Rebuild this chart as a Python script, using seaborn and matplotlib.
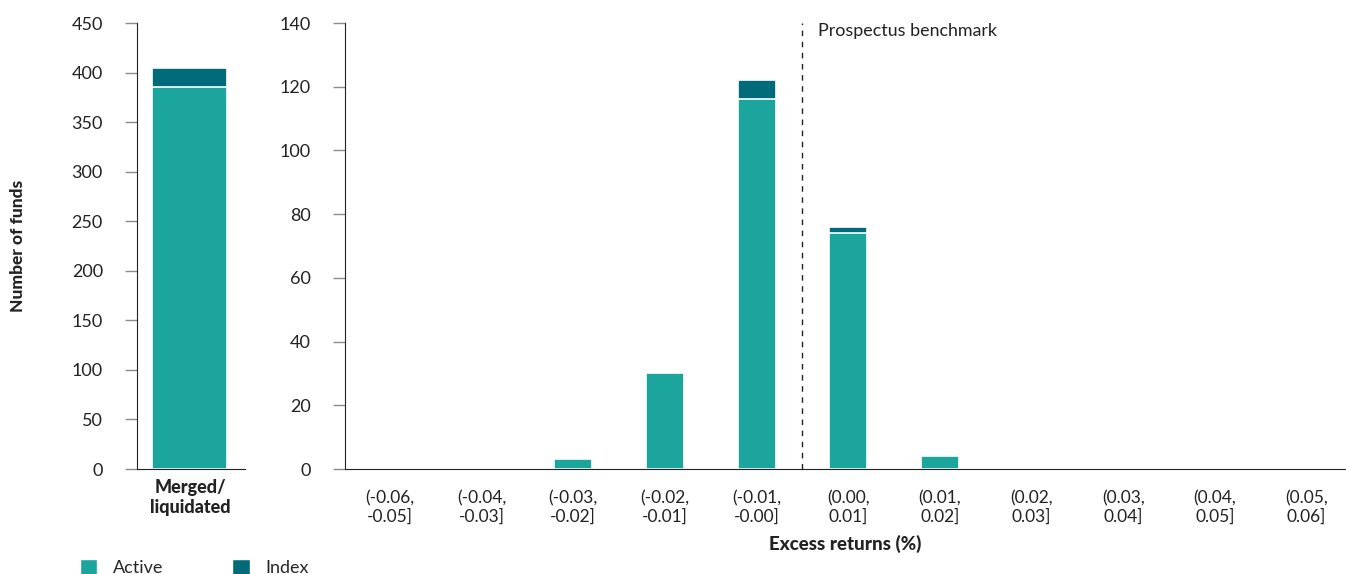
import pandas as pd
import matplotlib
matplotlib.use("Agg")
import matplotlib.pyplot as plt
import seaborn as sns
from matplotlib.patches import Patch

# Values
buckets = ["(-0.06,\n-0.05]", "(-0.04,\n-0.03]", "(-0.03,\n-0.02]", "(-0.02,\n-0.01]",
           "(-0.01,\n-0.00]", "(0.00,\n0.01]", "(0.01,\n0.02]", "(0.02,\n0.03]",
           "(0.03,\n0.04]", "(0.04,\n0.05]", "(0.05,\n0.06]"]
active = [0, 0, 3, 30, 116, 74, 4, 0, 0, 0, 0]
index = [0, 0, 0, 0, 6, 2, 0, 0, 0, 0, 0]

closed_label = ["Merged/\nliquidated"]
closed_active = [385]
closed_index = [20]

ACTIVE = "#1ba59d"
INDEX = "#016b79"
TEXT = "#222222"
TICK = "#8c8c8c"

sns.set_style("white")
plt.rcParams["font.family"] = ["Lato", "DejaVu Sans"]
plt.rcParams["font.size"] = 13

df = pd.DataFrame({"bucket": buckets, "active": active, "index": index})
df["total"] = df["active"] + df["index"]

df_closed = pd.DataFrame({"bucket": closed_label, "active": closed_active, "index": closed_index})
df_closed["total"] = df_closed["active"] + df_closed["index"]

fig = plt.figure(figsize=(13.46, 5.74), dpi=100)
W, H = 1346, 574
ax1 = fig.add_axes([137 / W, (H - 469) / H, 108 / W, 446 / H])
ax2 = fig.add_axes([345 / W, (H - 469) / H, 1001 / W, 446 / H])

# Left panel: merged / liquidated funds
sns.barplot(data=df_closed, x="bucket", y="total", color=INDEX, saturation=1,
            width=0.8, edgecolor="white", linewidth=1.2, ax=ax1)
sns.barplot(data=df_closed, x="bucket", y="active", color=ACTIVE, saturation=1,
            width=0.8, edgecolor="white", linewidth=1.2, ax=ax1)
ax1.set_xlim(-0.565, 0.587)
ax1.set_ylim(0, 450)
ax1.set_yticks(range(0, 451, 50))

# Right panel: excess returns
sns.barplot(data=df, x="bucket", y="total", color=INDEX, saturation=1,
            width=0.414, edgecolor="white", linewidth=1.2, ax=ax2)
sns.barplot(data=df, x="bucket", y="active", color=ACTIVE, saturation=1,
            width=0.414, edgecolor="white", linewidth=1.2, ax=ax2)
ax2.set_xlim(-0.49, 10.43)
ax2.set_ylim(0, 140)
ax2.set_yticks(range(0, 141, 20))
ax2.axvline(4.5, color=TEXT, linestyle=(0, (4, 4)), linewidth=1)
ax2.text(4.67, 137.5, "Prospectus benchmark", va="center", ha="left", color=TEXT, fontsize=12.9)

for ax in (ax1, ax2):
    sns.despine(ax=ax)
    ax.spines["left"].set_color(TEXT)
    ax.spines["bottom"].set_color(TEXT)
    ax.tick_params(axis="y", left=True, length=8.6, width=1, pad=16, color=TICK,
                   labelcolor=TEXT, labelsize=13)
    ax.tick_params(axis="x", length=0, colors=TEXT, labelsize=12.5)
    ax.set_xlabel("")
    ax.set_ylabel("")

ax1.tick_params(axis="x", pad=7)
for lbl in ax1.get_xticklabels():
    lbl.set_fontweight("black")
    lbl.set_fontsize(13)
ax2.tick_params(axis="x", pad=15)

ax1.set_ylabel("Number of funds", fontweight="black", fontsize=12.5, color=TEXT)
ax1.yaxis.set_label_coords(-1.03, 0.5)
ax2.set_xlabel("Excess returns (%)", fontweight="black", fontsize=13.5, labelpad=7.5, color=TEXT)

handles = [Patch(facecolor=ACTIVE, label="Active"), Patch(facecolor=INDEX, label="Index")]
fig.legend(handles=handles, loc="center left", bbox_to_anchor=(80 / W, 0.011), ncol=2,
           frameon=False, handlelength=0.95, handleheight=0.95, handletextpad=0.9,
           columnspacing=3.8, borderpad=0, borderaxespad=0, fontsize=13)

fig.savefig("out.png", dpi=100)
